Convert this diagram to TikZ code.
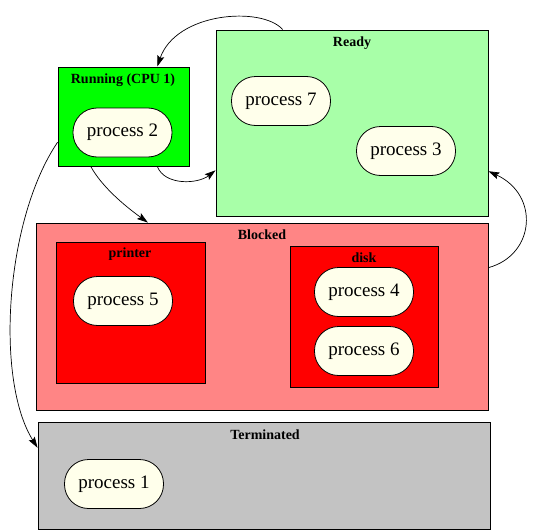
\documentclass[tikz,border=0pt]{standalone}
\usepackage{fontspec}
\setmainfont{Liberation Serif}
\usetikzlibrary{arrows.meta,calc}
\definecolor{runc}{HTML}{00FF00}
\definecolor{readyc}{HTML}{A8FFA8}
\definecolor{blockc}{HTML}{FF8585}
\definecolor{devc}{HTML}{FF0000}
\definecolor{termc}{HTML}{C3C3C3}
\definecolor{procc}{HTML}{FFFFEB}
\begin{document}
\begin{tikzpicture}[x=1pt,y=-1pt,
  box/.style={draw=black,line width=0.9pt,rectangle,inner sep=0pt},
  proc/.style={draw=black,line width=0.8pt,fill=procc,rounded corners=24pt,
    minimum width=99pt,minimum height=49pt,inner sep=0pt,
    font=\fontsize{19}{22}\selectfont},
  ttl/.style={font=\fontsize{14}{16}\selectfont\bfseries,inner sep=0pt},
  edge/.style={draw=black,line width=0.7pt,-{Stealth[length=11pt,width=7pt,inset=2pt]}}]
\useasboundingbox (0,0) rectangle (536,530);
% containers
\node[box,fill=readyc,minimum width=272pt,minimum height=186pt] (ready) at (352,123) {};
\node[box,fill=runc,minimum width=131pt,minimum height=99pt] (running) at (123.5,116.5) {};
\node[box,fill=blockc,minimum width=452pt,minimum height=187pt] (blocked) at (262,316.5) {};
\node[box,fill=devc,minimum width=149pt,minimum height=141pt] (printer) at (131,312.5) {};
\node[box,fill=devc,minimum width=148pt,minimum height=141pt] (disk) at (364,316.5) {};
\node[box,fill=termc,minimum width=452pt,minimum height=107pt] (term) at (264,475.5) {};
% titles
\node[ttl] (truning) at (123,80) {Running (CPU 1)};
\node[ttl] (tready) at (352,43) {Ready};
\node[ttl] (tblocked) at (262,235) {Blocked};
\node[ttl] (tprinter) at (130,254) {printer};
\node[ttl] (tdisk) at (364,258) {disk};
\node[ttl] (tterm) at (265,435) {Terminated};
% processes
\node[proc] (p2) at (122.5,132.5) {process 2};
\node[proc] (p7) at (281,101) {process 7};
\node[proc] (p3) at (406,151) {process 3};
\node[proc] (p5) at (123,301) {process 5};
\node[proc] (p4) at (364,292) {process 4};
\node[proc] (p6) at (364,351) {process 6};
\node[proc] (p1) at (114,484) {process 1};
% edges
\draw[edge] ($(ready.north west)!0.246!(ready.north east)$)
  .. controls (262,6) and (176,12) .. ($(running.north west)!0.756!(running.north east)$);
\draw[edge] ($(running.south west)!0.756!(running.south east)$)
  .. controls (165,186) and (198,184) .. ($(ready.north west)!0.753!(ready.south west)$);
\draw[edge] ($(running.south west)!0.252!(running.south east)$)
  .. controls (102,187) and (125,206) .. ($(blocked.north west)!0.248!(blocked.north east)$);
\draw[edge] ($(running.north west)!0.758!(running.south west)$)
  .. controls (5,220) and (-5,380) .. ($(term.north west)!0.243!(term.south west)$);
\draw[edge] ($(blocked.north east)!0.24!(blocked.south east)$)
  .. controls (535,255) and (540,195) .. ($(ready.north east)!0.758!(ready.south east)$);
\end{tikzpicture}
\end{document}
